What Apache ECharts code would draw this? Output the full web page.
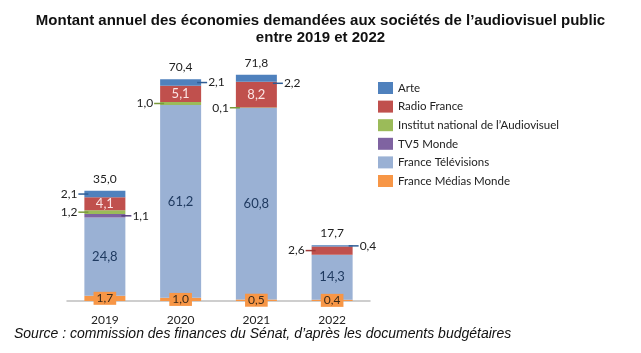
<!DOCTYPE html>
<html><head><meta charset="utf-8">
<script src="https://cdn.jsdelivr.net/npm/echarts@6/dist/echarts.min.js"></script>
<style>html,body{margin:0;padding:0;background:#fff}#c{width:641px;height:353px}</style>
</head><body><div id="c"></div>
<script>
var categories = ['2019','2020','2021','2022'];
var fmm   = [1.7, 1.0, 0.5, 0.4];   // France Médias Monde
var ftv   = [24.8, 61.2, 60.8, 14.3]; // France Télévisions
var tv5   = [1.1, 0, 0, 0];        // TV5 Monde
var ina   = [1.2, 1.0, 0.1, 0];    // Institut national de l'Audiovisuel
var radio = [4.1, 5.1, 8.2, 2.6];  // Radio France
var arte  = [2.1, 2.1, 2.2, 0.4];  // Arte
var totals = [35.0, 70.4, 71.8, 17.7];

var names = ['France Médias Monde','France Télévisions','TV5 Monde',"Institut national de l’Audiovisuel",'Radio France','Arte'];
var colors = ['#F79646','#9AB1D4','#7F63A1','#9BBB59','#C0504D','#4F81BD'];
var values = [fmm, ftv, tv5, ina, radio, arte];
// label placement per series / category
var pos = [
  ['inside','inside','inside','inside'],
  ['inside','inside','inside','inside'],
  ['right',null,null,null],
  ['left','left','left',null],
  ['inside','inside','inside','left'],
  ['left','right','right','right']
];
var dashColors = ['#F79646','#9AB1D4','#5a3f80','#7a9a3a','#a03a38','#2e5c94'];
function fmt(v){return v.toFixed(1).replace('.',',');}
var FONT = 'Lato, "Open Sans", sans-serif';

var series = values.map(function(arr, si){
  return {
    name: names[si], type: 'bar', stack: 'a', barWidth: 41,
    itemStyle: {color: colors[si]},
    data: arr.map(function(v, ci){
      var p = pos[si][ci];
      var item = {value: v};
      if (!p) { item.label = {show:false}; return item; }
      if (p === 'inside') {
        if (si === 0) {
          item.label = {show:true, position:'inside', formatter: fmt(v), color:'#3a2a1a',
            backgroundColor:'#F79646', padding:[1,3,0,3], fontSize:12, fontFamily:FONT};
        } else if (si === 1) {
          item.label = {show:true, position:'inside', formatter: fmt(v), color:'#1F3A60', fontSize:13, fontFamily:FONT};
        } else {
          item.label = {show:true, position:'inside', formatter: fmt(v), color:'#FBE4E4', fontSize:13, fontFamily:FONT};
        }
      } else if (p === 'left') {
        item.label = {show:true, position:'left', distance:-4, formatter: '{v|'+fmt(v)+'}{d|}',
          rich:{v:{color:'#222', fontSize:12, fontFamily:FONT, padding:[0,1,0,0]},
                d:{width:10, height:1.5, backgroundColor:dashColors[si]}}};
      } else {
        item.label = {show:true, position:'right', distance:-4, formatter: '{d|}{v|'+fmt(v)+'}',
          offset: (si===5 && ci===2) ? [0,5] : [0,0],
          rich:{v:{color:'#222', fontSize:12, fontFamily:FONT, padding:[0,0,0,1]},
                d:{width:10, height:1.5, backgroundColor:dashColors[si]}}};
      }
      return item;
    })
  };
});
series.push({
  name: 'total', type: 'bar', stack: 'a', barWidth: 41,
  data: totals.map(function(){return 0;}),
  label: {show:true, position:'top', distance:6, color:'#222', fontSize:12, fontFamily:FONT,
    formatter: function(p){return fmt(totals[p.dataIndex]);}}
});

var chart = echarts.init(document.getElementById('c'));
chart.setOption({
  animation: false,
  title: {
    text: "Montant annuel des économies demandées aux sociétés de l’audiovisuel public\nentre 2019 et 2022",
    left: 'center', top: 7,
    textStyle: {fontFamily:'"Liberation Sans Narrow", "Liberation Sans", Arial, sans-serif', fontWeight:'bold', fontSize:15, lineHeight:17, color:'#111'}
  },
  graphic: [{
    type:'text', left: 14, top: 327,
    style: {text:"Source : commission des finances du Sénat, d’après les documents budgétaires",
      font: 'italic 14px "Liberation Sans Narrow", "Liberation Sans", Arial, sans-serif', fill:'#111'}
  }],
  legend: {
    data: names.slice().reverse(),
    orient:'vertical', left: 373, top: 77, itemWidth: 15, itemHeight: 12, itemGap: 6.6,
    icon: 'rect',
    textStyle: {fontFamily:FONT, fontSize:11.5, color:'#222', padding:[0,0,0,0]}
  },
  grid: {left: 67, right: 271, top: 49, bottom: 52},
  xAxis: {type:'category', data: categories,
    axisLine:{lineStyle:{color:'#BFBFBF', width:1.5}}, axisTick:{show:false},
    axisLabel:{color:'#222', fontFamily:FONT, fontSize:12, margin:13}},
  yAxis: {type:'value', min:0, max:80, show:false, splitLine:{show:false}},
  series: series
});
</script></body></html>
